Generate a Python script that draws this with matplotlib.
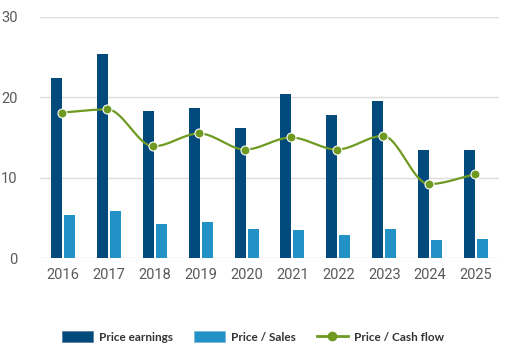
import numpy as np
import matplotlib
matplotlib.use("Agg")
import matplotlib.pyplot as plt
from matplotlib.lines import Line2D
from matplotlib.patches import Patch

years = ["2016", "2017", "2018", "2019", "2020", "2021", "2022", "2023", "2024", "2025"]
price_earnings = [22.4, 25.4, 18.3, 18.7, 16.2, 20.4, 17.8, 19.6, 13.4, 13.4]
price_sales = [5.4, 5.9, 4.25, 4.5, 3.6, 3.5, 2.9, 3.6, 2.25, 2.4]
price_cashflow = [18.1, 18.5, 13.9, 15.5, 13.5, 15.0, 13.5, 15.2, 9.2, 10.4]

c_dark = "#034a7c"
c_light = "#2291c6"
c_green = "#6f9a22"


def monotone_cubic(x, y, n=30):
    x = np.asarray(x, float)
    y = np.asarray(y, float)
    h = np.diff(x)
    d = np.diff(y) / h
    m = np.zeros_like(y)
    m[0] = d[0]
    m[-1] = d[-1]
    for i in range(1, len(y) - 1):
        if d[i - 1] * d[i] <= 0:
            m[i] = 0
        else:
            w1 = 2 * h[i] + h[i - 1]
            w2 = h[i] + 2 * h[i - 1]
            m[i] = (w1 + w2) / (w1 / d[i - 1] + w2 / d[i])
    xs, ys = [], []
    for i in range(len(x) - 1):
        t = np.linspace(0, 1, n, endpoint=(i == len(x) - 2))
        hh = h[i]
        h00 = 2 * t**3 - 3 * t**2 + 1
        h10 = t**3 - 2 * t**2 + t
        h01 = -2 * t**3 + 3 * t**2
        h11 = t**3 - t**2
        xs.append(x[i] + t * hh)
        ys.append(h00 * y[i] + h10 * hh * m[i] + h01 * y[i + 1] + h11 * hh * m[i + 1])
    return np.concatenate(xs), np.concatenate(ys)


fig = plt.figure(figsize=(5.09, 3.63), dpi=100)
ax = fig.add_axes([40 / 509, 1 - 258 / 363, 459 / 509, 241 / 363])

x = np.arange(len(years))
bw = 0.24
off = 0.142
ax.bar(x - off, price_earnings, width=bw, color=c_dark, zorder=2)
ax.bar(x + off, price_sales, width=bw, color=c_light, zorder=2)

lx = x - 0.03
sx, sy = monotone_cubic(lx, price_cashflow)
ax.plot(sx, sy, color=c_green, lw=1.6, zorder=3, clip_on=False)
ax.plot(lx, price_cashflow, 'o', color=c_green, markersize=6.5, markeredgecolor="white",
        markeredgewidth=0.8, zorder=4, clip_on=False)

ax.set_xlim(-0.5, len(years) - 0.5)
ax.set_ylim(0, 30)
ax.set_yticks([0, 10, 20, 30])
ax.set_xticks(x)
ax.set_xticklabels(years)
ax.grid(axis='y', color="#dcdcdc", lw=1, zorder=0)
ax.set_axisbelow(True)
for s in ax.spines.values():
    s.set_visible(False)
ax.tick_params(axis='both', length=0, colors="#5a5a5a", labelsize=10.5)
ax.tick_params(axis='y', pad=16)
ax.tick_params(axis='x', pad=7)
for lab in ax.get_xticklabels() + ax.get_yticklabels():
    lab.set_fontfamily("Roboto")
    lab.set_color("#5a5a5a")

handles = [
    Patch(facecolor=c_dark, edgecolor="#5a7fa0", lw=0.6, label="Price earnings"),
    Patch(facecolor=c_light, edgecolor="#7ab8dc", lw=0.6, label="Price / Sales"),
    Line2D([0], [0], color=c_green, lw=2, marker='o', markersize=6, label="Price / Cash flow"),
]
fig.legend(handles=handles, loc="center", bbox_to_anchor=(0.497, 1 - 337 / 363), ncol=3,
           frameon=False, prop={"family": "Lato", "weight": "bold", "size": 8.5},
           labelcolor="#333333", handlelength=2.6, handleheight=0.95, columnspacing=1.8,
           handletextpad=0.5)

fig.savefig("out.png", dpi=100, facecolor="white")
